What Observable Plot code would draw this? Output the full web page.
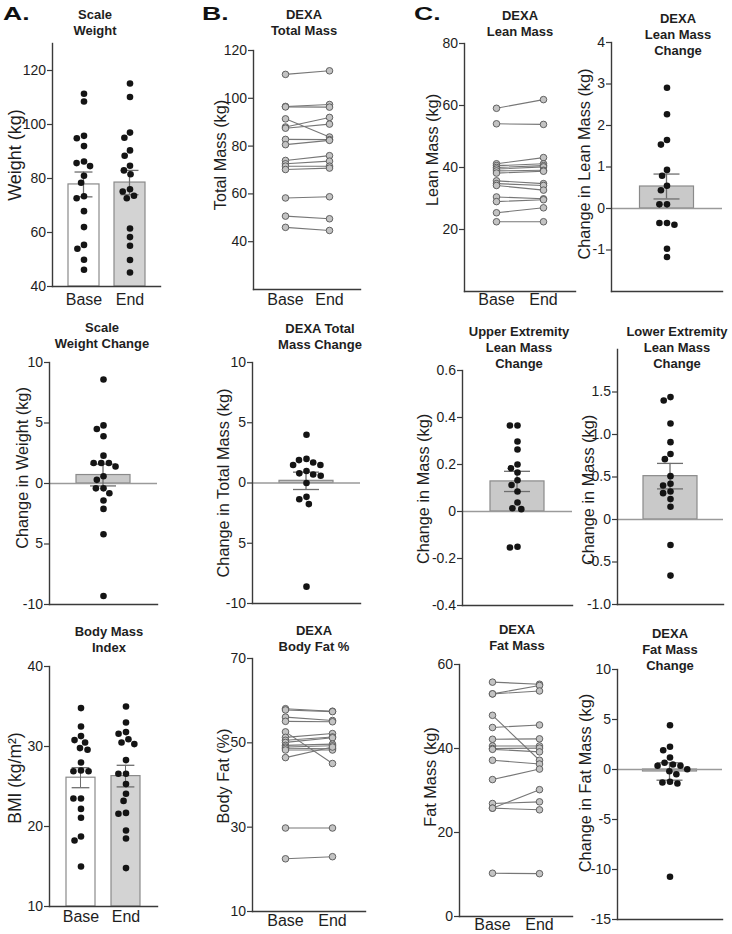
<!DOCTYPE html>
<html>
<head>
<meta charset="utf-8">
<script src="https://cdn.jsdelivr.net/npm/d3@7"></script>
<script src="https://cdn.jsdelivr.net/npm/@observablehq/plot@0.6"></script>
<style>
  html, body { margin: 0; padding: 0; background: #fff; }
  #fig { position: relative; width: 732px; height: 934px; overflow: hidden; background: #fff;
         font-family: "Liberation Sans", Arial, Helvetica, sans-serif; color: #1e1e1e; }
  .title { position: absolute; font-weight: bold; font-size: 13px; line-height: 16px; text-align: center;
           white-space: nowrap; transform: translateX(-50%); color: #1e1e1e; }
  .ylab { position: absolute; font-size: 16.3px; line-height: 18px; white-space: nowrap;
          transform: translate(-50%, -50%) rotate(-90deg); color: #1e1e1e; }
  .letter { position: absolute; font-weight: bold; font-size: 19px; line-height: 20px;
            transform: scaleX(1.4); transform-origin: left top; color: #111; }
</style>
</head>
<body>
<div id="fig"></div>
<script>
// ---------------- DATA ----------------
const groups = ["Base", "End"];

// A. Scale weight (kg)
const weightBase = [111.4, 108.5, 95.8, 94.9, 92.0, 86.3, 85.7, 84.6, 81.0, 78.4, 73.4, 72.7, 67.9, 62.0, 55.4, 54.0, 49.9, 46.2];
const weightEnd  = [115.2, 110.2, 97.0, 95.1, 90.4, 88.4, 84.7, 83.0, 81.6, 76.0, 75.2, 73.6, 72.7, 61.5, 58.3, 55.1, 49.8, 45.2];
const weightMean = [77.8, 78.5];
const weightSem  = [4.6, 4.5];
const weightTicks = [40, 60, 80, 100, 120];

// A. Scale weight change (kg)
const weightChange = [8.6, 4.8, 4.5, 3.9, 2.3, 1.7, 1.7, 1.7, 1.4, 0.6, 0.3, -0.4, -0.4, -0.8, -1.4, -2.1, -4.2, -9.3];
const weightChangeMean = 0.7;
const weightChangeSem = 0.9;
const changeTicks10 = [-10, -5, 0, 5, 10];
const changeTickLabels10 = ["-10", "5", "0", "5", "10"];

// A. Body mass index (kg/m2)
const bmiBase = [34.8, 32.5, 31.3, 30.8, 30.5, 29.8, 29.6, 28.0, 27.0, 26.9, 26.9, 23.5, 23.5, 22.2, 21.1, 18.75, 18.25, 15.0];
const bmiEnd  = [35.0, 33.0, 31.8, 31.6, 30.9, 30.5, 30.3, 28.3, 26.6, 26.6, 25.3, 24.1, 23.2, 21.7, 21.6, 19.5, 18.5, 14.8];
const bmiMean = [26.1, 26.3];
const bmiSem  = [1.25, 1.35];
const bmiTicks = [10, 20, 30, 40];

// B. DEXA total mass (kg), paired by participant
const totalBase = [110.0, 96.6, 96.4, 91.4, 88.0, 87.5, 82.8, 80.6, 74.0, 72.6, 71.6, 70.2, 58.3, 50.7, 46.0];
const totalEnd  = [111.5, 97.4, 96.3, 83.8, 92.0, 89.2, 82.7, 82.4, 76.0, 73.7, 71.6, 70.8, 58.8, 49.6, 44.7];
const totalTicks = [40, 60, 80, 100, 120];

// B. DEXA total mass change (kg)
const totalChange = [4.0, 2.0, 1.9, 1.7, 1.5, 1.5, 1.0, 0.8, 0.7, 0.6, 0.0, -1.15, -1.35, -1.75, -8.6];
const totalChangeMean = 0.18;
const totalChangeSem = 0.72;

// B. DEXA body fat (%)
const fatPctBase = [58.1, 57.8, 56.1, 55.1, 52.6, 51.3, 50.6, 50.1, 49.4, 49.0, 48.7, 48.3, 46.5, 29.8, 22.5];
const fatPctEnd  = [57.5, 57.4, 55.3, 55.0, 45.1, 52.2, 51.4, 51.2, 49.7, 49.3, 48.6, 48.3, 49.0, 29.8, 23.0];
const fatPctTicks = [10, 30, 50, 70];

// C. DEXA lean mass (kg)
const leanBase = [59.1, 54.1, 41.2, 40.6, 40.0, 39.5, 38.9, 38.2, 35.7, 34.8, 34.2, 30.5, 29.0, 25.4, 22.5];
const leanEnd  = [61.9, 53.9, 43.2, 41.2, 40.6, 40.2, 39.1, 38.8, 34.8, 34.2, 32.7, 29.9, 29.6, 27.0, 22.5];
const leanTicks = [20, 40, 60, 80];

// C. DEXA lean mass change (kg)
const leanChange = [2.91, 2.27, 1.65, 1.54, 0.93, 0.79, 0.55, 0.44, 0.10, 0.10, -0.35, -0.35, -0.39, -0.97, -1.17];
const leanChangeMean = 0.53;
const leanChangeSem = 0.30;
const leanChangeTicks = [-1, 0, 1, 2, 3, 4];

// C. Upper extremity lean mass change (kg)
const upperChange = [0.366, 0.366, 0.298, 0.264, 0.200, 0.184, 0.166, 0.133, 0.113, 0.085, 0.038, 0.014, 0.010, -0.150, -0.153];
const upperMean = 0.128;
const upperSem = 0.043;
const upperTicks = [-0.4, -0.2, 0, 0.2, 0.4, 0.6];
const upperTickLabels = ["-0.4", "-0.2", "0", "0.2", "0.4", "0.6"];

// C. Lower extremity lean mass change (kg)
const lowerChange = [1.44, 1.40, 1.13, 0.91, 0.77, 0.71, 0.51, 0.42, 0.40, 0.33, 0.31, 0.24, 0.15, -0.30, -0.66];
const lowerMean = 0.51;
const lowerSem = 0.15;
const lowerTicks = [-1, -0.5, 0, 0.5, 1, 1.5];
const lowerTickLabels = ["-1.0", "-0.5", "0", "0.5", "1.0", "1.5"];

// C. DEXA fat mass (kg)
const fatBase = [55.8, 53.0, 53.0, 47.9, 45.0, 42.2, 40.6, 40.0, 39.8, 37.2, 32.6, 26.9, 25.8, 25.8, 10.3];
const fatEnd  = [55.3, 55.0, 53.7, 37.2, 45.6, 42.3, 40.6, 40.1, 39.2, 36.3, 35.1, 27.3, 30.2, 25.4, 10.2];
const fatTicks = [0, 20, 40, 60];

// C. DEXA fat mass change (kg)
const fatChange = [4.43, 2.27, 1.93, 1.2, 0.67, 0.5, 0.37, 0.37, 0.03, -0.17, -0.47, -1.23, -1.3, -1.4, -10.73];
const fatChangeMean = -0.2;
const fatChangeSem = 0.87;
const fatChangeTicks = [-15, -10, -5, 0, 5, 10];

// ---------------- LAYOUT / STYLE ----------------
const fig = document.getElementById("fig");
const FONT = '"Liberation Sans", Arial, Helvetica, sans-serif';
const AX = "#3a3a3a", TXT = "#1e1e1e", ERR = "#6e6e6e", BAR_STROKE = "#8a8a8a";
const ML = 50, MR = 12, MT = 10, MB = 34;

function place(frame, options) {
  const [x0, x1, y0, y1] = frame;
  const svg = Plot.plot({
    width: x1 - x0 + ML + MR,
    height: y1 - y0 + MT + MB,
    marginLeft: ML, marginRight: MR, marginTop: MT, marginBottom: MB,
    style: {background: "transparent", overflow: "visible", fontFamily: FONT, color: TXT},
    ...options
  });
  svg.style.position = "absolute";
  svg.style.left = (x0 - ML) + "px";
  svg.style.top = (y0 - MT) + "px";
  svg.style.maxWidth = "none";
  fig.appendChild(svg);
}

function yAxis(ticks, labels) {
  return Plot.axisY(ticks, {
    tickSize: 5, tickPadding: 1.5, fontSize: 14, label: null,
    stroke: AX, fill: TXT, strokeWidth: 1.2,
    tickFormat: labels ? (d => labels[ticks.indexOf(d)]) : (d => String(d))
  });
}
function axisLines() {
  return [
    Plot.frame({anchor: "left", stroke: AX, strokeWidth: 1.4}),
    Plot.frame({anchor: "bottom", stroke: AX, strokeWidth: 1.4})
  ];
}

// Two-group bar + scatter panel (Base / End): faceted content + axis overlay with the same y scale
function groupBarPanel(frame, domain, ticks, base, end, means, sems, padding, tickPadding) {
  const pts = base.map(v => ({group: "Base", value: v})).concat(end.map(v => ({group: "End", value: v})));
  const summary = groups.map((g, i) => ({group: g, floor: domain[0], mean: means[i], lo: means[i] - sems[i], hi: means[i] + sems[i]}));
  const bw = d3.scaleBand().domain(groups).range([0, frame[1] - frame[0]]).paddingInner(padding).paddingOuter(padding).bandwidth();
  const stemInset = (bw - 1.3) / 2, capInset = (bw - 18) / 2;
  place(frame, {
    fx: {domain: groups, paddingInner: padding, paddingOuter: padding},
    y: {domain, axis: null},
    color: {domain: groups, range: ["#ffffff", "#d3d3d3"]},
    marks: [
      Plot.barY(summary, {fx: "group", y1: "floor", y2: "mean", fill: "group", stroke: BAR_STROKE, strokeWidth: 1.2}),
      Plot.barY(summary, {fx: "group", y1: "lo", y2: "hi", fill: ERR, insetLeft: stemInset, insetRight: stemInset}),
      Plot.tickY(summary, {fx: "group", y: "lo", stroke: ERR, strokeWidth: 1.3, insetLeft: capInset, insetRight: capInset}),
      Plot.tickY(summary, {fx: "group", y: "hi", stroke: ERR, strokeWidth: 1.3, insetLeft: capInset, insetRight: capInset}),
      Plot.dot(pts, Plot.dodgeX("middle", {fx: "group", y: "value", r: 3.3, padding: 5, fill: "#141414"})),
      Plot.axisFx({anchor: "bottom", tickSize: 0, tickPadding, fontSize: 16, label: null, fill: TXT})
    ]
  });
  place(frame, {
    y: {domain},
    marks: [...axisLines(), yAxis(ticks)]
  });
}

// Single-bar change panel with zero line
function changePanel(frame, domain, ticks, labels, values, mean, sem) {
  const w = frame[1] - frame[0];
  const barInset = (w - 54) / 2, stemInset = (w - 1.3) / 2, capInset = (w - 26) / 2;
  const summary = [{mean, lo: mean - sem, hi: mean + sem}];
  place(frame, {
    y: {domain},
    marks: [
      Plot.barY(summary, {y: "mean", fill: "#c9c9c9", stroke: BAR_STROKE, strokeWidth: 1.2, insetLeft: barInset, insetRight: barInset}),
      Plot.ruleY([0], {stroke: "#9a9a9a", strokeWidth: 1.3}),
      Plot.barY(summary, {y1: "lo", y2: "hi", fill: ERR, insetLeft: stemInset, insetRight: stemInset}),
      Plot.tickY(summary, {y: "lo", stroke: ERR, strokeWidth: 1.3, insetLeft: capInset, insetRight: capInset}),
      Plot.tickY(summary, {y: "hi", stroke: ERR, strokeWidth: 1.3, insetLeft: capInset, insetRight: capInset}),
      Plot.dot(values, Plot.dodgeX("middle", {y: d => d, r: 3.3, padding: 7, fill: "#141414"})),
      ...axisLines(),
      yAxis(ticks, labels)
    ]
  });
}

// Paired before/after panel
function pairedPanel(frame, domain, ticks, base, end, padding, tickPadding) {
  const rows = base.map((v, i) => ({id: i, time: "Base", value: v}))
    .concat(end.map((v, i) => ({id: i, time: "End", value: v})));
  place(frame, {
    x: {type: "point", domain: groups, padding},
    y: {domain},
    marks: [
      Plot.line(rows, {x: "time", y: "value", z: "id", stroke: "#777", strokeWidth: 1.1}),
      Plot.dot(rows, {x: "time", y: "value", r: 3.3, fill: "#c3c3c3", stroke: "#555", strokeWidth: 0.9}),
      ...axisLines(),
      yAxis(ticks),
      Plot.axisX({tickSize: 0, tickPadding, fontSize: 16, label: null, fill: TXT})
    ]
  });
}

// ---------------- PANELS ----------------
groupBarPanel([52, 160, 43, 286], [40, 130], weightTicks, weightBase, weightEnd, weightMean, weightSem, 0.33, 7);
changePanel([49, 157, 362, 604], [-10, 10], changeTicks10, changeTickLabels10, weightChange, weightChangeMean, weightChangeSem);
groupBarPanel([49, 157, 666, 906], [10, 40], bmiTicks, bmiBase, bmiEnd, bmiMean, bmiSem, 0.36, 4);

pairedPanel([253, 360, 50, 289], [20, 120], totalTicks, totalBase, totalEnd, 0.69, 4);
changePanel([252, 360, 362, 603], [-10, 10], changeTicks10, changeTickLabels10, totalChange, totalChangeMean, totalChangeSem);
pairedPanel([252, 365, 658, 911], [10, 70], fatPctTicks, fatPctBase, fatPctEnd, 0.68, 3);

pairedPanel([464, 575, 43, 291], [0, 80], leanTicks, leanBase, leanEnd, 0.67, 2.5);
changePanel([611, 722, 42, 291], [-2, 4], leanChangeTicks, null, leanChange, leanChangeMean, leanChangeSem);
changePanel([462, 572, 370, 605], [-0.4, 0.6], upperTicks, upperTickLabels, upperChange, upperMean, upperSem);
changePanel([617, 723, 349, 604], [-1, 2], lowerTicks, lowerTickLabels, lowerChange, lowerMean, lowerSem);
pairedPanel([459, 572, 664, 916], [0, 60], fatTicks, fatBase, fatEnd, 0.68, 2.5);
changePanel([617, 722, 669, 919], [-15, 10], fatChangeTicks, null, fatChange, fatChangeMean, fatChangeSem);

// ---------------- TEXT ----------------
function addDiv(cls, html, left, top, size) {
  const d = document.createElement("div");
  d.className = cls; d.innerHTML = html;
  d.style.left = left + "px"; d.style.top = top + "px";
  if (size) d.style.fontSize = size + "px";
  fig.appendChild(d);
}
addDiv("letter", "A.", 3, 4);
addDiv("letter", "B.", 202, 4);
addDiv("letter", "C.", 414, 4);
[
  ["Scale<br>Weight", 95, 15],
  ["DEXA<br>Total Mass", 304, 15],
  ["DEXA<br>Lean Mass", 520, 15.5],
  ["DEXA<br>Lean Mass<br>Change", 678, 19],
  ["Scale<br>Weight Change", 102, 328],
  ["DEXA Total<br>Mass Change", 320, 329],
  ["Upper Extremity<br>Lean Mass<br>Change", 519, 332],
  ["Lower Extremity<br>Lean Mass<br>Change", 677, 331.5],
  ["Body Mass<br>Index", 109, 632],
  ["DEXA<br>Body Fat %", 314, 631],
  ["DEXA<br>Fat Mass", 517, 630],
  ["DEXA<br>Fat Mass<br>Change", 670, 634]
].forEach(([t, x, y]) => addDiv("title", t, x, y - 8));
[
  ["Weight (kg)", 15, 155, 18],
  ["Change in Weight (kg)", 22, 468],
  ["BMI (kg/m²)", 15, 778, 17.5],
  ["Total Mass (kg)", 220, 155],
  ["Change in Total Mass (kg)", 223, 483],
  ["Body Fat (%)", 223, 776],
  ["Lean Mass (kg)", 432, 150],
  ["Change in Lean Mass (kg)", 584, 164],
  ["Change in Mass (kg)", 423, 489],
  ["Change in Mass (kg)", 588, 490],
  ["Fat Mass (kg)", 430, 777],
  ["Change in Fat Mass (kg)", 585, 783]
].forEach(([t, x, y, s]) => addDiv("ylab", t, x, y, s));
</script>
</body>
</html>
